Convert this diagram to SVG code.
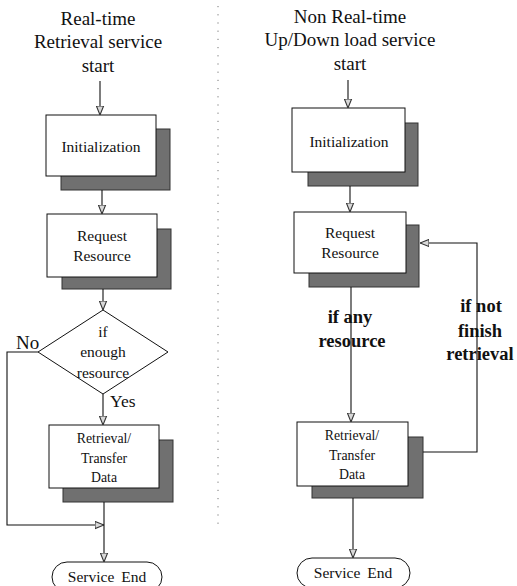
<svg xmlns="http://www.w3.org/2000/svg" width="517" height="586" viewBox="0 0 517 586">
<style>
text{font-family:"Liberation Serif","Times New Roman",serif;fill:#111;text-anchor:middle}
.t{font-size:19px}
.b{font-size:15.5px}
.s{font-size:13.8px}
.lb{font-size:18.5px;font-weight:bold}
.box{fill:#fff;stroke:#111;stroke-width:1}
.sh{fill:#707070;stroke:#333;stroke-width:1}
.ln{fill:none;stroke:#111;stroke-width:1.1}
.ar{marker-end:url(#ah)}
</style>
<defs>
<marker id="ah" viewBox="0 0 10 10" refX="10" refY="5" markerWidth="9" markerHeight="9" markerUnits="userSpaceOnUse" orient="auto">
<path d="M0,1 L10,5 L0,9 z" fill="#d8d8d8" stroke="#333" stroke-width="1.2"/>
</marker>
</defs>
<rect width="517" height="586" fill="#fff"/>
<line x1="218" y1="6" x2="218" y2="525" stroke="#777" stroke-width="1" stroke-dasharray="1.2 7"/>

<g id="title-left">
<text class="t" x="98" y="25">Real-time</text>
<text class="t" x="98" y="48">Retrieval service</text>
<text class="t" x="98" y="72">start</text>
</g>
<g id="title-right">
<text class="t" x="350" y="23">Non Real-time</text>
<text class="t" x="350" y="46">Up/Down load service</text>
<text class="t" x="350" y="70">start</text>
</g>

<g id="init-left">
<rect class="sh" x="61" y="129" width="109" height="61"/>
<rect class="box" x="46" y="115" width="110" height="61"/>
<text class="b" x="101" y="152">Initialization</text>
</g>
<g id="request-left">
<rect class="sh" x="62" y="229" width="109" height="60"/>
<rect class="box" x="47" y="214" width="110" height="63"/>
<text class="b" x="102" y="241">Request</text>
<text class="b" x="102" y="261">Resource</text>
</g>
<g id="decision-left">
<polygon class="box" points="103,310 168,352 103,394 38,352"/>
<text class="b" x="103" y="337">if</text>
<text class="b" x="103" y="357">enough</text>
<text class="b" x="103" y="378">resource</text>
</g>
<g id="retrieval-left">
<rect class="sh" x="63" y="440" width="110" height="62"/>
<rect class="box" x="49" y="425" width="110" height="63"/>
<text class="s" x="104" y="443">Retrieval/</text>
<text class="s" x="104" y="463">Transfer</text>
<text class="s" x="104" y="482">Data</text>
</g>
<g id="end-left">
<rect class="box" x="52" y="562" width="110" height="30" rx="15"/>
<text class="b" x="107" y="582" word-spacing="3">Service End</text>
</g>

<g id="init-right">
<rect class="sh" x="308" y="123" width="110" height="63"/>
<rect class="box" x="292" y="108" width="113" height="64"/>
<text class="b" x="349" y="147">Initialization</text>
</g>
<g id="request-right">
<rect class="sh" x="309" y="225" width="110" height="62"/>
<rect class="box" x="294" y="212" width="112" height="61"/>
<text class="b" x="350" y="238">Request</text>
<text class="b" x="350" y="258">Resource</text>
</g>
<g id="retrieval-right">
<rect class="sh" x="312" y="437" width="111" height="61"/>
<rect class="box" x="297" y="422" width="111" height="64"/>
<text class="s" x="352" y="440">Retrieval/</text>
<text class="s" x="352" y="460">Transfer</text>
<text class="s" x="352" y="479">Data</text>
</g>
<g id="end-right">
<rect class="box" x="297" y="558" width="113" height="30" rx="15"/>
<text class="b" x="353" y="578" word-spacing="3">Service End</text>
</g>

<g id="connectors">
<line class="ln ar" x1="100" y1="81" x2="100" y2="115"/>
<line class="ln ar" x1="102" y1="190" x2="102" y2="214"/>
<line class="ln ar" x1="103" y1="289" x2="103" y2="310"/>
<line class="ln ar" x1="103" y1="394" x2="103" y2="425"/>
<polyline class="ln ar" points="38,352 7,352 7,525 104,525"/>
<line class="ln ar" x1="104" y1="502" x2="104" y2="562"/>
<line class="ln ar" x1="348" y1="80" x2="348" y2="108"/>
<line class="ln ar" x1="350" y1="186" x2="350" y2="212"/>
<line class="ln ar" x1="351" y1="287" x2="351" y2="422"/>
<polyline class="ln ar" points="423,452 477,452 477,243 420,243"/>
<line class="ln ar" x1="353" y1="498" x2="353" y2="558"/>
</g>

<g id="labels">
<text x="16" y="349" style="font-size:19px;text-anchor:start">No</text>
<text x="110" y="407" style="font-size:17.5px;text-anchor:start">Yes</text>
<text class="lb" x="350" y="323">if any</text>
<text class="lb" x="352" y="347">resource</text>
<text class="lb" x="481" y="312">if not</text>
<text class="lb" x="480" y="337">finish</text>
<text class="lb" x="480" y="360">retrieval</text>
</g>
</svg>
